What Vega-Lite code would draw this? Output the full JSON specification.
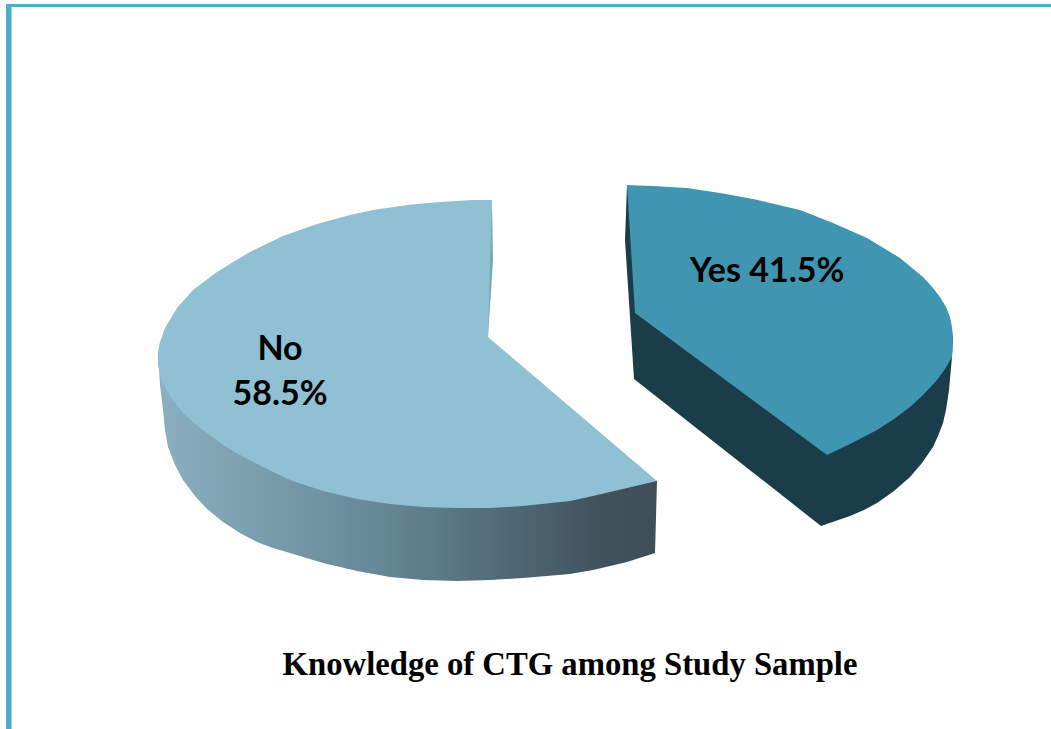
{
"$schema":"https://vega.github.io/schema/vega-lite/v6.json",
"width":1051,"height":729,"padding":0,
"autosize":{"type":"fit","contains":"padding"},
"background":"#ffffff",
"config":{"view":{"stroke":null}},
"datasets":{
"noSide":[
{"i":1,"x":158,"y":352},{"i":2,"x":160,"y":385},{"i":3,"x":163,"y":410},{"i":4,"x":165,"y":430},{"i":5,"x":168,"y":447},{"i":6,"x":175,"y":465},{"i":7,"x":183,"y":480},{"i":8,"x":195,"y":496},{"i":9,"x":207,"y":509},{"i":10,"x":223,"y":522},{"i":11,"x":240,"y":533},{"i":12,"x":257,"y":542},{"i":13,"x":273,"y":548},{"i":14,"x":290,"y":553},{"i":15,"x":323,"y":563},{"i":16,"x":357,"y":571},{"i":17,"x":390,"y":577},{"i":18,"x":423,"y":580},{"i":19,"x":457,"y":581},{"i":20,"x":490,"y":580},{"i":21,"x":523,"y":578},{"i":22,"x":570,"y":574},{"i":23,"x":593,"y":570},{"i":24,"x":627,"y":562},{"i":25,"x":655,"y":553},{"i":26,"x":657,"y":481}
],
"faces":[
{"part":"frame left","i":1,"x":6,"y":4},{"part":"frame left","i":2,"x":11,"y":4},{"part":"frame left","i":3,"x":11,"y":729},{"part":"frame left","i":4,"x":6,"y":729},
{"part":"frame edge","i":1,"x":11,"y":7},{"part":"frame edge","i":2,"x":12,"y":7},{"part":"frame edge","i":3,"x":12,"y":729},{"part":"frame edge","i":4,"x":11,"y":729},
{"part":"frame top","i":1,"x":6,"y":4},{"part":"frame top","i":2,"x":1051,"y":4},{"part":"frame top","i":3,"x":1051,"y":7},{"part":"frame top","i":4,"x":6,"y":7},
{"part":"No inner wall","i":1,"x":492,"y":201},{"part":"No inner wall","i":2,"x":493,"y":260},{"part":"No inner wall","i":3,"x":488,"y":337},{"part":"No inner wall","i":4,"x":482,"y":333},
{"part":"Yes side","i":1,"x":627,"y":185},{"part":"Yes side","i":2,"x":625,"y":240},{"part":"Yes side","i":3,"x":634,"y":379},{"part":"Yes side","i":4,"x":821,"y":526},{"part":"Yes side","i":5,"x":850,"y":516},{"part":"Yes side","i":6,"x":864,"y":510},{"part":"Yes side","i":7,"x":877,"y":503},{"part":"Yes side","i":8,"x":894,"y":491},{"part":"Yes side","i":9,"x":910,"y":477},{"part":"Yes side","i":10,"x":922,"y":463},{"part":"Yes side","i":11,"x":933,"y":447},{"part":"Yes side","i":12,"x":938,"y":436},{"part":"Yes side","i":13,"x":943,"y":423},{"part":"Yes side","i":14,"x":946,"y":410},{"part":"Yes side","i":15,"x":949,"y":390},{"part":"Yes side","i":16,"x":952,"y":357},{"part":"Yes side","i":17,"x":953,"y":337},
{"part":"Yes top","i":1,"x":627,"y":185},{"part":"Yes top","i":2,"x":653,"y":186},{"part":"Yes top","i":3,"x":687,"y":188},{"part":"Yes top","i":4,"x":720,"y":193},{"part":"Yes top","i":5,"x":753,"y":199},{"part":"Yes top","i":6,"x":787,"y":207},{"part":"Yes top","i":7,"x":800,"y":210},{"part":"Yes top","i":8,"x":833,"y":223},{"part":"Yes top","i":9,"x":867,"y":238},{"part":"Yes top","i":10,"x":900,"y":258},{"part":"Yes top","i":11,"x":923,"y":277},{"part":"Yes top","i":12,"x":933,"y":288},{"part":"Yes top","i":13,"x":940,"y":297},{"part":"Yes top","i":14,"x":946,"y":307},{"part":"Yes top","i":15,"x":950,"y":317},{"part":"Yes top","i":16,"x":952,"y":327},{"part":"Yes top","i":17,"x":953,"y":337},{"part":"Yes top","i":18,"x":952,"y":357},{"part":"Yes top","i":19,"x":945,"y":369},{"part":"Yes top","i":20,"x":937,"y":380},{"part":"Yes top","i":21,"x":924,"y":394},{"part":"Yes top","i":22,"x":910,"y":407},{"part":"Yes top","i":23,"x":894,"y":419},{"part":"Yes top","i":24,"x":877,"y":430},{"part":"Yes top","i":25,"x":852,"y":443},{"part":"Yes top","i":26,"x":827,"y":455},{"part":"Yes top","i":27,"x":635,"y":313},
{"part":"No top","i":1,"x":492,"y":200},{"part":"No top","i":2,"x":473,"y":200},{"part":"No top","i":3,"x":440,"y":202},{"part":"No top","i":4,"x":407,"y":205},{"part":"No top","i":5,"x":373,"y":210},{"part":"No top","i":6,"x":350,"y":215},{"part":"No top","i":7,"x":317,"y":224},{"part":"No top","i":8,"x":283,"y":236},{"part":"No top","i":9,"x":250,"y":252},{"part":"No top","i":10,"x":233,"y":262},{"part":"No top","i":11,"x":217,"y":272},{"part":"No top","i":12,"x":193,"y":290},{"part":"No top","i":13,"x":177,"y":308},{"part":"No top","i":14,"x":165,"y":328},{"part":"No top","i":15,"x":160,"y":342},{"part":"No top","i":16,"x":158,"y":352},{"part":"No top","i":17,"x":158,"y":365},{"part":"No top","i":18,"x":161,"y":380},{"part":"No top","i":19,"x":170,"y":396},{"part":"No top","i":20,"x":183,"y":413},{"part":"No top","i":21,"x":195,"y":424},{"part":"No top","i":22,"x":207,"y":433},{"part":"No top","i":23,"x":223,"y":445},{"part":"No top","i":24,"x":240,"y":455},{"part":"No top","i":25,"x":257,"y":464},{"part":"No top","i":26,"x":273,"y":472},{"part":"No top","i":27,"x":290,"y":480},{"part":"No top","i":28,"x":323,"y":491},{"part":"No top","i":29,"x":357,"y":499},{"part":"No top","i":30,"x":390,"y":504},{"part":"No top","i":31,"x":423,"y":507},{"part":"No top","i":32,"x":457,"y":508},{"part":"No top","i":33,"x":490,"y":508},{"part":"No top","i":34,"x":523,"y":506},{"part":"No top","i":35,"x":570,"y":501},{"part":"No top","i":36,"x":593,"y":496},{"part":"No top","i":37,"x":627,"y":488},{"part":"No top","i":38,"x":657,"y":481},{"part":"No top","i":39,"x":488,"y":337}
],
"labels":[
{"label":"No","x":280,"y":360},
{"label":"58.5%","x":280,"y":405},
{"label":"Yes 41.5%","x":767,"y":282}
],
"title":[{"label":"Knowledge of CTG among Study Sample","x":570,"y":675}]
},
"layer":[
{"data":{"name":"noSide"},
"mark":{"type":"line","filled":true,"strokeWidth":0,"fill":{"gradient":"linear","x1":0,"y1":0,"x2":1,"y2":0,"stops":[{"offset":0,"color":"#8AB0C1"},{"offset":0.45,"color":"#668795"},{"offset":0.9,"color":"#3F515B"},{"offset":1,"color":"#3E4F58"}]}},
"encoding":{
"x":{"field":"x","type":"quantitative","axis":null,"scale":{"domain":[0,1051],"nice":false,"zero":false}},
"y":{"field":"y","type":"quantitative","axis":null,"scale":{"domain":[729,0],"nice":false,"zero":false}},
"order":{"field":"i","type":"quantitative"}}},
{"data":{"name":"faces"},
"mark":{"type":"line","filled":true,"strokeWidth":0},
"encoding":{
"x":{"field":"x","type":"quantitative","axis":null},
"y":{"field":"y","type":"quantitative","axis":null},
"order":{"field":"i","type":"quantitative"},
"detail":{"field":"part","type":"nominal"},
"fill":{"field":"part","type":"nominal","legend":null,"scale":{"domain":["frame left","frame edge","frame top","No inner wall","Yes side","Yes top","No top"],"range":["#4BAEC9","#A5D8E6","#4BAEC9","#7BA4B5","#1B3D4A","#4096B0","#90C0D3"]}}}},
{"data":{"name":"labels"},
"mark":{"type":"text","font":"Lato","fontWeight":"bold","fontSize":34,"align":"center","baseline":"alphabetic","color":"#000000"},
"encoding":{"x":{"field":"x","type":"quantitative","axis":null},"y":{"field":"y","type":"quantitative","axis":null},"text":{"field":"label"}}},
{"data":{"name":"title"},
"mark":{"type":"text","font":"Liberation Serif","fontWeight":"bold","fontSize":32.7,"align":"center","baseline":"alphabetic","color":"#000000"},
"encoding":{"x":{"field":"x","type":"quantitative","axis":null},"y":{"field":"y","type":"quantitative","axis":null},"text":{"field":"label"}}}
]
}
